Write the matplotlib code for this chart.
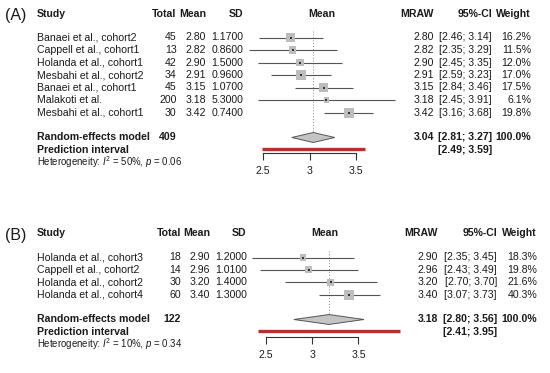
import matplotlib
matplotlib.use("Agg")
import numpy as np
from matplotlib import pyplot as plt
from matplotlib import transforms

plt.rcParams['font.family'] = ['Liberation Sans', 'DejaVu Sans']
plt.rcParams['mathtext.fontset'] = 'custom'
plt.rcParams['mathtext.rm'] = 'Liberation Sans'
plt.rcParams['mathtext.it'] = 'Liberation Sans:italic'

# panel A data
studies_a = ['Banaei et al., cohort2', 'Cappell et al., cohort1', 'Holanda et al., cohort1',
             'Mesbahi et al., cohort2', 'Banaei et al., cohort1', 'Malakoti et al.',
             'Mesbahi et al., cohort1']
total_a = [45, 13, 42, 34, 45, 200, 30]
mean_a = [2.80, 2.82, 2.90, 2.91, 3.15, 3.18, 3.42]
sd_a = [1.17, 0.86, 1.50, 0.96, 1.07, 5.30, 0.74]
lo_a = [2.46, 2.35, 2.45, 2.59, 2.84, 2.45, 3.16]
hi_a = [3.14, 3.29, 3.35, 3.23, 3.46, 3.91, 3.68]
weight_a = [16.2, 11.5, 12.0, 17.0, 17.5, 6.1, 19.8]
pooled_a = (409, 3.04, 2.81, 3.27)
pred_a = (2.49, 3.59)
het_a = (50, '0.06')

# panel B data
studies_b = ['Holanda et al., cohort3', 'Cappell et al., cohort2', 'Holanda et al., cohort2',
             'Holanda et al., cohort4']
total_b = [18, 14, 30, 60]
mean_b = [2.90, 2.96, 3.20, 3.40]
sd_b = [1.20, 1.01, 1.40, 1.30]
lo_b = [2.35, 2.43, 2.70, 3.07]
hi_b = [3.45, 3.49, 3.70, 3.73]
weight_b = [18.3, 19.8, 21.6, 40.3]
pooled_b = (122, 3.18, 2.80, 3.56)
pred_b = (2.41, 3.95)
het_b = (10, '0.34')

x_ticks = [2.5, 3, 3.5]
x_ticklabels = ['2.5', '3', '3.5']

W, H = 550, 373
FS = 7.6
TXT = '#1a1a1a'
LINE = '#555555'
SQUARE = '#bdbdbd'
RED = '#b3322b'


def _forest(fig, label, studies, total, mean, sd, lo, hi, weight, pooled, pred, het, lay):
    row0, row_h, axis_y, x3, ppu = lay['row0'], lay['row_h'], lay['axis_y'], lay['x3'], lay['ppu']
    cols = lay['cols']
    top_px = lay['top']

    def row(p):
        return (p - row0) / row_h

    left_px, right_px = 230, 412
    ax = fig.add_axes([left_px / W, 1 - axis_y / H, (right_px - left_px) / W, (axis_y - top_px) / H])
    ax.set_xlim(3 + (left_px - x3) / ppu, 3 + (right_px - x3) / ppu)
    ax.set_ylim(row(axis_y), row(top_px))
    ax.patch.set_visible(False)
    for s in ['top', 'left', 'right']:
        ax.spines[s].set_visible(False)
    ax.spines['bottom'].set_bounds(x_ticks[0], x_ticks[-1])
    ax.spines['bottom'].set_color('#333333')
    ax.spines['bottom'].set_linewidth(0.8)
    ax.set_yticks([])
    ax.set_xticks(x_ticks)
    ax.set_xticklabels(x_ticklabels)
    ax.tick_params(axis='x', direction='out', length=5, width=0.8, color='#333333',
                   labelsize=FS, labelcolor=TXT, pad=4.5)

    n = len(studies)
    rows = np.arange(n)
    re_row, pi_row, het_row = n + 1, n + 2, n + 3
    hdr = lay['hdr']

    # study lines and squares
    ax.hlines(rows, lo, hi, color=LINE, lw=0.8, zorder=1)
    w = np.array(weight)
    side_pt = 10 * np.sqrt(w / w.max()) * 0.72
    ax.scatter(mean, rows, s=side_pt ** 2, marker='s', color=SQUARE, lw=0, zorder=2)
    ax.scatter(mean, rows, s=1.2, marker='s', color='#333333', lw=0, zorder=3)

    est = pooled[1]
    ax.vlines(est, -0.5, re_row - 0.42, color='#888888', lw=0.7, linestyles=(0, (1, 2)), zorder=0)
    dh = 0.4
    ax.fill([pooled[2], est, pooled[3], est], [re_row, re_row - dh, re_row, re_row + dh],
            facecolor='#c4c4c4', edgecolor='#555555', lw=0.7, zorder=2)
    ax.hlines(pi_row - 0.1, pred[0], pred[1], color=RED, lw=2.4, zorder=2)

    tr = transforms.blended_transform_factory(fig.transFigure, ax.transData)

    def put(px, y, s, ha='left', weight='normal', size=FS):
        ax.text(px / W, y, s, transform=tr, ha=ha, va='center', fontsize=size,
                fontweight=weight, color=TXT, clip_on=False)

    # headers
    put(cols['study'], hdr, 'Study', weight='bold')
    put(cols['total'], hdr, 'Total', ha='right', weight='bold')
    put(cols['mean'], hdr, 'Mean', ha='right', weight='bold')
    put(cols['sd'], hdr, 'SD', ha='right', weight='bold')
    put(cols['plot'], hdr, 'Mean', ha='center', weight='bold')
    put(cols['mraw'], hdr, 'MRAW', ha='right', weight='bold')
    put(cols['ci'], hdr, '95%-CI', ha='right', weight='bold')
    put(cols['w'], hdr, 'Weight', ha='right', weight='bold')

    for i in range(n):
        put(cols['study'], i, studies[i])
        put(cols['total'], i, str(total[i]), ha='right')
        put(cols['mean'], i, f'{mean[i]:.2f}', ha='right')
        put(cols['sd'], i, f'{sd[i]:.4f}', ha='right')
        put(cols['mraw'], i, f'{mean[i]:.2f}', ha='right')
        put(cols['ci'], i, f'[{lo[i]:.2f}; {hi[i]:.2f}]', ha='right')
        put(cols['w'], i, f'{weight[i]:.1f}%', ha='right')

    put(cols['study'], re_row, 'Random-effects model', weight='bold')
    put(cols['total'], re_row, str(pooled[0]), ha='right', weight='bold')
    put(cols['mraw'], re_row, f'{est:.2f}', ha='right', weight='bold')
    put(cols['ci'], re_row, f'[{pooled[2]:.2f}; {pooled[3]:.2f}]', ha='right', weight='bold')
    put(cols['w'], re_row, '100.0%', ha='right', weight='bold')
    put(cols['study'], pi_row, 'Prediction interval', weight='bold')
    put(cols['ci'], pi_row, f'[{pred[0]:.2f}; {pred[1]:.2f}]', ha='right', weight='bold')
    put(cols['study'], het_row, f'Heterogeneity: $I^2$ = {het[0]}%, $p$ = {het[1]}', size=6.9)

    ax.text(16 / W, 1 - lay['label_y'] / H, label, transform=fig.transFigure, ha='center',
            va='center', fontsize=11.5, color=TXT)


fig = plt.figure(figsize=(5.5, 3.73), dpi=100)

layout_a = dict(row0=37.5, row_h=12.5, axis_y=153.3, x3=309.5, ppu=93.5, top=4, hdr=-1.88,
                label_y=15.5,
                cols=dict(study=37, total=176.5, mean=206, sd=243, plot=321.7, mraw=434, ci=492, w=531))
layout_b = dict(row0=257.5, row_h=12.4, axis_y=337.3, x3=312.3, ppu=92.3, top=222, hdr=-2.0,
                label_y=235.5,
                cols=dict(study=37, total=181, mean=210, sd=246.7, plot=325, mraw=438, ci=497, w=537))

_forest(fig, '(A)', studies_a, total_a, mean_a, sd_a, lo_a, hi_a, weight_a, pooled_a, pred_a, het_a, layout_a)
_forest(fig, '(B)', studies_b, total_b, mean_b, sd_b, lo_b, hi_b, weight_b, pooled_b, pred_b, het_b, layout_b)

fig.savefig('out.png', dpi=100, facecolor='white')
